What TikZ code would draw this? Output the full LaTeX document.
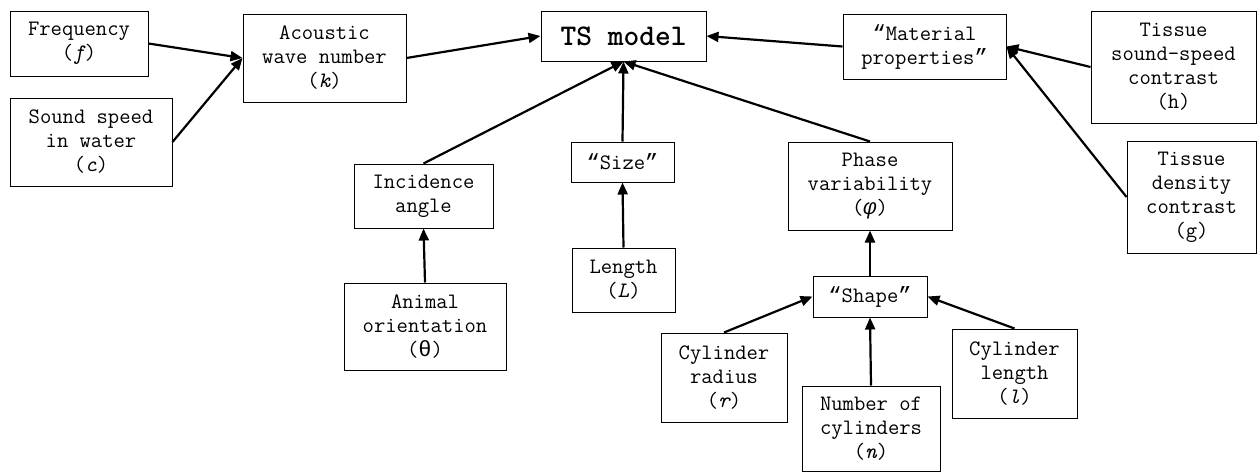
\documentclass[tikz,border=0pt]{standalone}
\usepackage{fontspec}
\newfontfamily\greekmono{Liberation Mono}
\newcommand\openq{{\greekmono “}}
\newcommand\closeq{{\greekmono ”}}
\usetikzlibrary{arrows.meta}

\tikzset{
  box/.style={draw, line width=1pt, align=center, inner sep=0pt,
    font=\ttfamily\fontsize{22}{24}\selectfont},
  dep/.style={-{Triangle[length=12pt,width=10pt]}, line width=2.2pt}
}

\begin{document}
\begin{tikzpicture}[x=1pt,y=-1pt]
\useasboundingbox (0,0) rectangle (1259,472);

\node[box, minimum width=138, minimum height=65] (freq) at (79,43.5) {Frequency\\({\itshape f})};
\node[box, minimum width=162, minimum height=88] (sound) at (91,142) {Sound speed\\in water\\({\itshape c})};
\node[box, minimum width=163, minimum height=88] (wave) at (324.5,58) {Acoustic\\wave number\\({\itshape k})};
\node[box, minimum width=165, minimum height=50, font=\ttfamily\bfseries\fontsize{30}{32}\selectfont] (ts) at (623.5,36) {TS model};
\node[box, minimum width=163, minimum height=65] (mat) at (924.5,46.5) {\openq Material\\properties\closeq};
\node[box, minimum width=165, minimum height=112] (speedc) at (1173.5,67) {Tissue\\sound-speed\\contrast\\(h)};
\node[box, minimum width=129, minimum height=112] (densc) at (1191.5,197) {Tissue\\density\\contrast\\(g)};
\node[box, minimum width=139, minimum height=64] (inc) at (423.5,196) {Incidence\\angle};
\node[box, minimum width=162, minimum height=87] (orient) at (425,326.5) {Animal\\orientation\\({\greekmono θ})};
\node[box, minimum width=103, minimum height=40] (size) at (622.5,162) {\openq Size\closeq};
\node[box, minimum width=103, minimum height=64] (len) at (623.5,280) {Length\\({\itshape L})};
\node[box, minimum width=164, minimum height=88] (phase) at (870,186) {Phase\\variability\\({\greekmono\itshape φ})};
\node[box, minimum width=114, minimum height=41] (shape) at (870,296.5) {\openq Shape\closeq};
\node[box, minimum width=126, minimum height=89] (radius) at (724,377.5) {Cylinder\\radius\\({\itshape r})};
\node[box, minimum width=138, minimum height=85] (ncyl) at (871,428.5) {Number of\\cylinders\\({\itshape n})};
\node[box, minimum width=125, minimum height=89] (clen) at (1014.5,373.5) {Cylinder\\length\\({\itshape l})};

\path[dep]
(freq.east) edge (wave.west)
(sound.east) edge (wave.west)
(wave.east) edge (ts.west)
(mat.west) edge (ts.east)
(speedc.west) edge (mat.east)
(densc.west) edge (mat.east)
(inc.north) edge (ts.south)
(size.north) edge (ts.south)
(phase.north) edge (ts.south)
(orient.north) edge (inc.south)
(len.north) edge (size.south)
(shape.north) edge (phase.south)
(radius.north) edge (shape.west)
(ncyl.north) edge (shape.south)
(clen.north) edge (shape.east)
;
\end{tikzpicture}
\end{document}
